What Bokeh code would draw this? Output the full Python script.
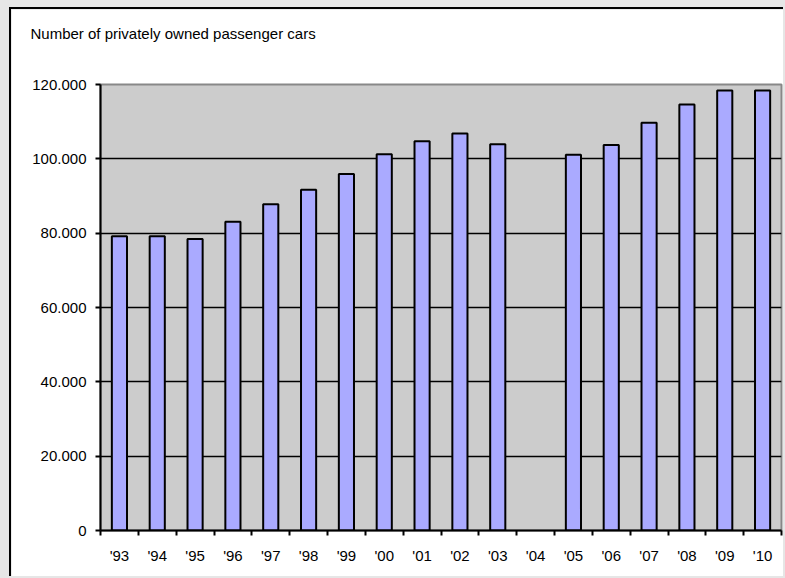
from bokeh.plotting import figure
from bokeh.models import FixedTicker, Range1d, ColumnDataSource, Title
from bokeh.embed import file_html
from bokeh.resources import INLINE

years = ["'93", "'94", "'95", "'96", "'97", "'98", "'99", "'00", "'01", "'02",
         "'03", "'04", "'05", "'06", "'07", "'08", "'09", "'10"]
cars = [79200, 79200, 78400, 83100, 87800, 91700, 95900, 101200, 104700, 106800,
        103900, None, 101100, 103700, 109700, 114600, 118400, 118400]
y_ticks = [0, 20000, 40000, 60000, 80000, 100000, 120000]
y_tick_labels = ["0", "20.000", "40.000", "60.000", "80.000", "100.000", "120.000"]
title_text = "Number of privately owned passenger cars"

xs = [i + 0.5 for i, v in enumerate(cars) if v is not None]
tops = [v for v in cars if v is not None]
src = ColumnDataSource(dict(x=xs, top=tops))

FONT = "Liberation Sans"
FS = "15px"

p = figure(width=774, height=569, output_backend="svg", toolbar_location=None,
           title_location=None,
           x_range=Range1d(0, len(years)), y_range=Range1d(0, 120000),
           min_border_left=89, min_border_right=4, min_border_top=75, min_border_bottom=48,
           background_fill_color="#CCCCCC", border_fill_color="white",
           outline_line_color="#888888", outline_line_width=2)
p.styles = {"border-left": "2px solid black", "border-top": "2px solid black"}

# spacer between the title and the plot area, then the title itself
p.add_layout(Title(text=" ", text_font_size="1px", standoff=40), "above")
p.add_layout(Title(text=title_text, align="left", offset=-70, standoff=0,
                   text_font=FONT, text_font_size=FS, text_font_style="normal",
                   text_color="black"), "above")

p.vbar(x="x", top="top", bottom=0, width=0.4, source=src,
       fill_color="#AAAAFF", line_color="black", line_width=2)

# grid
p.xgrid.visible = False
p.ygrid.ticker = FixedTicker(ticks=y_ticks)
p.ygrid.grid_line_color = "black"
p.ygrid.grid_line_width = 1.5

# y axis
ya = p.yaxis[0]
ya.ticker = FixedTicker(ticks=y_ticks)
ya.major_label_overrides = {t: l for t, l in zip(y_ticks, y_tick_labels)}
ya.axis_line_color = "black"
ya.axis_line_width = 2
ya.major_tick_out = 5
ya.major_tick_in = 0
ya.major_tick_line_width = 2
ya.minor_tick_line_color = None
ya.major_label_standoff = 9
ya.major_label_text_font = FONT
ya.major_label_text_font_size = FS
ya.major_label_text_color = "black"

# x axis: labels at category centers, ticks at boundaries
xa = p.xaxis[0]
centers = [i + 0.5 for i in range(len(years))]
xa.ticker = FixedTicker(ticks=centers, minor_ticks=list(range(len(years) + 1)))
xa.major_label_overrides = {c: y for c, y in zip(centers, years)}
xa.axis_line_color = "black"
xa.axis_line_width = 2
xa.major_tick_line_color = None
xa.major_tick_out = 0
xa.major_tick_in = 0
xa.minor_tick_out = 5
xa.minor_tick_in = 0
xa.minor_tick_line_width = 2
xa.minor_tick_line_color = "black"
xa.major_label_standoff = 11
xa.major_label_text_font = FONT
xa.major_label_text_font_size = FS
xa.major_label_text_color = "black"

html = file_html(p, INLINE)
html = html.replace("<head>", "<head><style>html,body{background:#E6E6E6 !important;} body{padding:7px 0 0 9px !important;}</style>", 1)
open("out.html", "w").write(html)
